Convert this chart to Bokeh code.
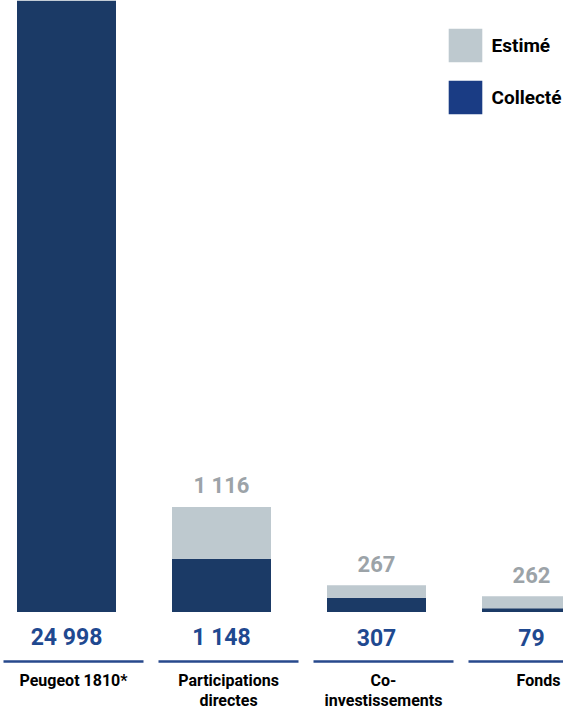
from bokeh.plotting import figure
from bokeh.models import ColumnDataSource, Range1d, Legend, LegendItem
from bokeh.core.properties import value
from bokeh.embed import file_html
from bokeh.resources import INLINE

# ---- data ----
categories = ["Peugeot 1810*", "Participations\ndirectes", "Co-\ninvestissements", "Fonds"]
collecte = [24998, 1148, 307, 79]
estime = [0, 1116, 267, 262]
series_labels = ["Estimé", "Collecté"]

# ---- styles ----
FONT_NAME = "Roboto"
FONT = value(FONT_NAME)
BAR_BLUE = "#1b3a66"
LEG_BLUE = "#1a3c84"
GREY = "#bec9cf"
NUM_BLUE = "#1f4990"
NUM_GREY = "#9ca3a8"
LINE_BLUE = "#27498c"

W, H = 563, 711
PITCH = 155.0          # px between category centres
X0_PX = 66.0           # px position of first category centre
UPP = 21.55            # data units per pixel (vertical)
BASE_PX = 611.5        # baseline position (px from top of plot)

def ypx(py):
    """vertical position given in px from top of plot -> data units"""
    return (BASE_PX - py) * UPP

fmt = lambda v: f"{v:,}".replace(",", " ")
xs = list(range(len(categories)))

p = figure(width=W, height=H, output_backend="svg", toolbar_location=None,
           x_range=Range1d(-X0_PX / PITCH, (W - X0_PX) / PITCH),
           y_range=Range1d(ypx(H), ypx(0)),
           min_border=0, outline_line_color=None)
p.axis.visible = False
p.grid.visible = False
p.background_fill_color = "white"
p.border_fill_color = "white"

tops = [c + e for c, e in zip(collecte, estime)]
src = ColumnDataSource(dict(x=xs, c=collecte, t=tops))
p.vbar(x="x", width=99 / PITCH, bottom=0, top="c", source=src,
       fill_color=BAR_BLUE, line_color=None)
p.vbar(x="x", width=99 / PITCH, bottom="c", top="t", source=src,
       fill_color=GREY, line_color=None)

# grey values above bars
gx = [x for x, e in zip(xs, estime) if e > 0]
gsrc = ColumnDataSource(dict(x=gx,
                             y=[t for t, e in zip(tops, estime) if e > 0],
                             s=[fmt(e) for e in estime if e > 0]))
p.text(x="x", y="y", text="s", source=gsrc, y_offset=-21,
       text_font=FONT, text_font_style="bold", text_font_size="22px",
       text_color=NUM_GREY, text_align="center", text_baseline="middle")

# blue values under bars
bsrc = ColumnDataSource(dict(x=xs, y=[ypx(636.5)] * len(xs), s=[fmt(c) for c in collecte]))
p.text(x="x", y="y", text="s", source=bsrc,
       text_font=FONT, text_font_style="bold", text_font_size="23px",
       text_color=NUM_BLUE, text_align="center", text_baseline="middle")

# separator lines
p.segment(x0=[x - 63 / PITCH for x in xs], x1=[x + 77 / PITCH for x in xs],
          y0=[ypx(661)] * len(xs), y1=[ypx(661)] * len(xs),
          line_color=LINE_BLUE, line_width=2.5)

# category labels
csrc = ColumnDataSource(dict(x=xs, y=[ypx(670)] * len(xs), s=categories))
p.text(x="x", y="y", text="s", source=csrc, x_offset=7,
       text_font=FONT, text_font_style="bold", text_font_size="16px",
       text_color="black", text_align="center", text_baseline="top",
       text_line_height=1.1)

# legend (dummy renderers, placed off-screen, carry the legend colours)
r_est = p.vbar(x=[-5], top=[0], width=0.1, fill_color=GREY, line_color=None)
r_col = p.vbar(x=[-5], top=[0], width=0.1, fill_color=LEG_BLUE, line_color=None)
legend = Legend(items=[LegendItem(label=series_labels[0], renderers=[r_est]),
                       LegendItem(label=series_labels[1], renderers=[r_col])],
                location=(443.5, 593), orientation="vertical",
                glyph_width=42, glyph_height=42, spacing=10, label_standoff=6,
                padding=0, margin=0, border_line_alpha=0, background_fill_alpha=0,
                label_text_font=FONT_NAME, label_text_font_style="bold",
                label_text_font_size="19px", label_text_color="black",
                label_text_baseline="middle")
p.add_layout(legend)

open("out.html", "w").write(file_html(p, INLINE))
